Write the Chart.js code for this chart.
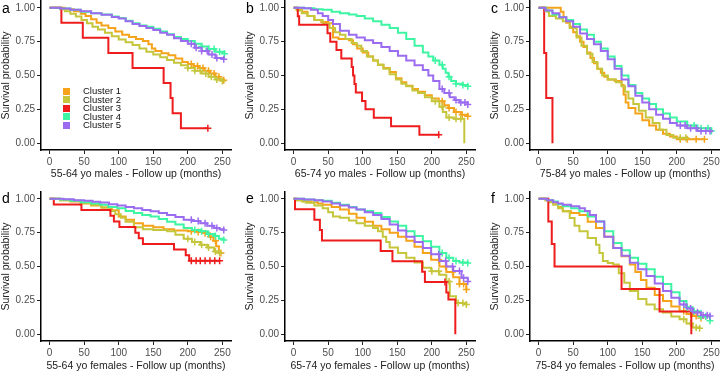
<!DOCTYPE html>
<html>
<head>
<meta charset="utf-8">
<script src="https://cdn.jsdelivr.net/npm/chart.js@4.4.1/dist/chart.umd.min.js"></script>
<style>
  html, body { margin: 0; padding: 0; width: 720px; height: 375px; overflow: hidden; background: #fff; }
  body { position: relative; font-family: "Liberation Sans", Arial, sans-serif; }
  .panel { position: absolute; }
  .tag { position: absolute; font-size: 14px; color: #000; line-height: 14px; }
  #legend { position: absolute; left: 63px; top: 87px; font-size: 9.5px; color: #111; }
  #legend div { height: 8.6px; line-height: 8.6px; white-space: nowrap; }
  #legend span { display: inline-block; width: 7px; height: 7px; margin-right: 13px; vertical-align: -0.5px; }
</style>
</head>
<body>
<script>
const clusters = ['Cluster 1', 'Cluster 2', 'Cluster 3', 'Cluster 4', 'Cluster 5'];
const colors = ['#F5A31A', '#C6C63C', '#EE1C1C', '#3DF5A2', '#9B6CF0'];
const xTicks = [0, 50, 100, 150, 200, 250];
const yTicks = [0, 0.25, 0.5, 0.75, 1];

// a: 55-64 males  [months, survival]
const a1 = [[0,1],[22,0.99],[35,0.975],[45,0.955],[52,0.94],[60,0.915],[68,0.89],[75,0.87],[85,0.85],[95,0.825],[105,0.8],[115,0.785],[125,0.77],[135,0.755],[143,0.73],[148,0.7],[153,0.68],[162,0.665],[172,0.65],[182,0.625],[192,0.6],[200,0.585],[208,0.57],[216,0.555],[224,0.535],[232,0.515],[240,0.49],[246,0.47],[252,0.465]];
const a2 = [[0,1],[15,0.99],[22,0.975],[30,0.955],[38,0.935],[46,0.91],[54,0.885],[62,0.86],[70,0.84],[80,0.815],[90,0.79],[100,0.765],[110,0.745],[120,0.725],[130,0.7],[140,0.675],[150,0.655],[160,0.635],[170,0.615],[180,0.595],[190,0.575],[200,0.555],[210,0.535],[220,0.515],[230,0.49],[240,0.47],[250,0.46]];
const a3 = [[0,1],[17,0.889],[48,0.778],[85,0.667],[120,0.556],[165,0.444],[175,0.333],[178,0.222],[190,0.111],[229,0.111]];
const a4 = [[0,1],[15,0.995],[30,0.985],[45,0.97],[60,0.96],[75,0.95],[90,0.935],[100,0.925],[110,0.905],[120,0.885],[130,0.87],[140,0.86],[150,0.845],[160,0.825],[170,0.805],[180,0.785],[190,0.77],[200,0.755],[210,0.735],[220,0.715],[230,0.695],[240,0.675],[253,0.66]];
const a5 = [[0,1],[15,0.995],[30,0.985],[45,0.975],[60,0.96],[75,0.948],[90,0.932],[100,0.92],[110,0.9],[120,0.88],[130,0.865],[140,0.85],[150,0.835],[160,0.815],[170,0.8],[180,0.775],[190,0.755],[200,0.735],[210,0.705],[220,0.68],[230,0.655],[240,0.63],[252,0.62]];
const aCens = [[205,214,222,230,238,245,252],[200,210,218,226,234,242,250],[229],[210,220,230,238,246,253],[205,212,220,228,235,242,252]];

// b: 65-74 males
const b1 = [[0,1],[4,0.985],[12,0.97],[20,0.94],[30,0.91],[40,0.895],[50,0.885],[57,0.78],[65,0.77],[80,0.76],[86,0.73],[92,0.7],[100,0.67],[108,0.64],[115,0.61],[122,0.58],[130,0.555],[139,0.525],[148,0.48],[156,0.45],[163,0.425],[172,0.4],[180,0.38],[190,0.355],[200,0.33],[210,0.31],[218,0.28],[224,0.26],[232,0.23],[242,0.21],[252,0.2]];
const b2 = [[0,1],[5,0.98],[12,0.96],[20,0.94],[30,0.91],[42,0.88],[52,0.85],[60,0.82],[67,0.8],[75,0.77],[84,0.74],[91,0.72],[98,0.68],[106,0.64],[115,0.61],[122,0.58],[130,0.55],[139,0.51],[148,0.47],[156,0.44],[163,0.42],[172,0.39],[180,0.37],[190,0.34],[200,0.31],[211,0.27],[216,0.23],[221,0.19],[232,0.18],[247,0]];
const b3 = [[0,1],[6,0.9375],[8,0.875],[49,0.8125],[53,0.75],[62,0.6875],[69,0.625],[84,0.5625],[86,0.5],[88,0.4375],[90,0.375],[99,0.3125],[104,0.25],[116,0.1875],[141,0.125],[182,0.0625],[210,0.0625]];
const b4 = [[0,1],[15,0.997],[30,0.99],[42,0.985],[55,0.97],[67,0.96],[80,0.95],[91,0.94],[103,0.92],[115,0.9],[127,0.875],[139,0.85],[151,0.815],[163,0.77],[175,0.72],[187,0.67],[195,0.64],[202,0.61],[211,0.58],[216,0.55],[220,0.52],[224,0.49],[228,0.46],[235,0.44],[245,0.43],[252,0.42]];
const b5 = [[0,1],[15,0.997],[25,0.985],[35,0.96],[42,0.94],[50,0.91],[57,0.88],[67,0.83],[80,0.8],[91,0.78],[103,0.76],[115,0.74],[127,0.71],[139,0.68],[151,0.645],[163,0.61],[175,0.575],[187,0.54],[195,0.5],[202,0.46],[211,0.4],[218,0.37],[226,0.34],[233,0.32],[240,0.3],[252,0.285]];
const bCens = [[215,225,235,244,252],[205,215,225,235,242],[210],[205,215,225,235,245,252],[215,225,235,242,248,252]];

// c: 75-84 males
const c1 = [[0,1],[29,1],[32,0.97],[36,0.93],[40,0.89],[45,0.86],[50,0.82],[55,0.79],[60,0.75],[65,0.71],[70,0.67],[75,0.63],[80,0.59],[85,0.55],[90,0.52],[95,0.49],[100,0.47],[110,0.46],[120,0.43],[123,0.36],[126,0.3],[130,0.26],[140,0.22],[150,0.17],[160,0.13],[170,0.1],[180,0.07],[190,0.05],[200,0.03],[240,0.03]];
const c2 = [[0,1],[12,0.97],[15,0.94],[25,0.92],[35,0.9],[45,0.85],[55,0.78],[62,0.72],[70,0.66],[78,0.6],[85,0.55],[92,0.5],[100,0.47],[112,0.45],[120,0.42],[125,0.38],[130,0.33],[137,0.29],[145,0.24],[155,0.19],[165,0.15],[175,0.1],[185,0.06],[195,0.04],[215,0.03]];
const c3 = [[0,1],[8,0.667],[11,0.333],[20,0]];
const c4 = [[0,1],[10,0.98],[20,0.95],[30,0.93],[40,0.91],[50,0.88],[60,0.84],[70,0.8],[80,0.75],[90,0.7],[100,0.64],[110,0.57],[120,0.5],[130,0.43],[140,0.37],[150,0.33],[160,0.29],[170,0.25],[180,0.22],[190,0.19],[200,0.16],[215,0.13],[230,0.11],[250,0.09]];
const c5 = [[0,1],[10,0.98],[20,0.96],[30,0.93],[40,0.9],[50,0.86],[60,0.81],[70,0.77],[80,0.73],[90,0.68],[100,0.62],[110,0.55],[120,0.47],[130,0.42],[140,0.35],[150,0.3],[160,0.25],[170,0.21],[180,0.18],[190,0.15],[200,0.13],[215,0.11],[230,0.09],[250,0.08]];
const cCens = [[205,215,228,240],[205,213],[],[215,225,235,245,250],[205,212,220,228,235,242,248]];

// d: 55-64 females
const d1 = [[0,1],[15,0.99],[30,0.98],[45,0.965],[60,0.95],[75,0.935],[90,0.915],[100,0.87],[110,0.845],[122,0.82],[135,0.8],[150,0.79],[165,0.775],[180,0.765],[200,0.76],[215,0.755],[225,0.745],[232,0.72],[237,0.69],[241,0.65],[245,0.6],[248,0.6]];
const d2 = [[0,1],[15,0.99],[30,0.985],[45,0.97],[60,0.955],[75,0.935],[88,0.91],[95,0.885],[103,0.86],[110,0.83],[122,0.79],[135,0.775],[150,0.77],[170,0.76],[182,0.735],[194,0.705],[206,0.68],[218,0.66],[228,0.64],[238,0.61],[246,0.6]];
const d3 = [[0,1],[6,0.958],[46,0.917],[88,0.875],[93,0.833],[101,0.792],[124,0.75],[129,0.708],[135,0.667],[180,0.625],[197,0.583],[202,0.542],[246,0.542]];
const d4 = [[0,1],[15,0.995],[30,0.985],[45,0.975],[60,0.965],[73,0.955],[85,0.94],[98,0.93],[110,0.91],[122,0.895],[134,0.88],[146,0.87],[158,0.85],[170,0.83],[182,0.81],[194,0.785],[206,0.77],[218,0.76],[228,0.74],[238,0.725],[245,0.705],[252,0.695]];
const d5 = [[0,1],[20,0.997],[35,0.99],[50,0.985],[62,0.978],[73,0.972],[86,0.96],[98,0.95],[110,0.94],[122,0.93],[134,0.918],[146,0.907],[158,0.895],[170,0.88],[182,0.865],[194,0.846],[206,0.835],[218,0.82],[228,0.8],[238,0.785],[246,0.775],[252,0.77]];
const dCens = [[205,215,225,233,240,248],[200,210,220,230,240,246],[205,212,218,225,232,239,246],[210,220,230,240,252],[205,215,225,235,242,252]];

// e: 65-74 females
const e1 = [[0,1],[5,0.99],[15,0.98],[25,0.975],[35,0.965],[42,0.956],[55,0.94],[67,0.92],[80,0.89],[91,0.86],[103,0.83],[115,0.8],[127,0.775],[139,0.75],[151,0.72],[163,0.69],[175,0.645],[187,0.6],[199,0.55],[211,0.5],[221,0.46],[231,0.42],[240,0.37],[250,0.33]];
const e2 = [[0,1],[5,0.99],[12,0.98],[18,0.97],[30,0.95],[42,0.93],[50,0.9],[57,0.87],[67,0.86],[80,0.84],[91,0.82],[103,0.8],[115,0.785],[122,0.76],[129,0.72],[134,0.68],[139,0.64],[151,0.6],[163,0.565],[175,0.53],[187,0.49],[199,0.465],[211,0.44],[221,0.39],[226,0.28],[235,0.23],[250,0.22]];
const e3 = [[0,1],[2,0.923],[30,0.846],[38,0.769],[41,0.692],[126,0.615],[143,0.538],[186,0.462],[190,0.385],[221,0.308],[224,0.256],[234,0]];
const e4 = [[0,1],[15,0.995],[30,0.99],[42,0.985],[55,0.97],[67,0.956],[80,0.94],[91,0.92],[103,0.91],[115,0.895],[127,0.865],[139,0.833],[151,0.8],[163,0.76],[175,0.725],[187,0.686],[199,0.645],[211,0.6],[221,0.565],[231,0.54],[240,0.53],[252,0.525]];
const e5 = [[0,1],[15,0.995],[30,0.99],[42,0.98],[55,0.965],[67,0.95],[80,0.935],[91,0.92],[103,0.9],[115,0.88],[127,0.85],[139,0.81],[151,0.765],[163,0.72],[175,0.68],[187,0.637],[199,0.59],[211,0.54],[221,0.5],[231,0.466],[243,0.417],[252,0.39]];
const eCens = [[210,220,230,240,246,250],[200,210,225,238,245,250],[219],[215,225,235,245,252],[210,220,230,240,246,252]];

// f: 75-84 females
const f1 = [[0,1],[10,0.99],[16,0.98],[21,0.97],[28,0.94],[35,0.907],[47,0.895],[59,0.88],[71,0.83],[83,0.784],[95,0.72],[108,0.637],[120,0.575],[132,0.515],[140,0.46],[148,0.4],[156,0.343],[168,0.29],[180,0.245],[192,0.205],[204,0.17],[214,0.15],[223,0.135],[235,0.12]];
const f2 = [[0,1],[10,0.99],[16,0.975],[21,0.956],[28,0.93],[35,0.907],[45,0.858],[52,0.8],[59,0.76],[71,0.71],[83,0.66],[88,0.6],[93,0.54],[100,0.525],[108,0.515],[116,0.45],[124,0.38],[132,0.32],[144,0.26],[156,0.22],[168,0.185],[180,0.16],[192,0.13],[204,0.11],[214,0.08],[223,0.05],[233,0.045]];
const f3 = [[0,1],[14,0.833],[19,0.667],[23,0.5],[120,0.333],[175,0.167],[221,0]];
const f4 = [[0,1],[12,0.99],[21,0.98],[28,0.96],[35,0.944],[47,0.93],[59,0.907],[71,0.87],[83,0.833],[95,0.76],[108,0.674],[120,0.62],[132,0.564],[144,0.52],[156,0.48],[168,0.425],[180,0.37],[192,0.31],[204,0.245],[214,0.2],[223,0.17],[235,0.13],[248,0.1]];
const f5 = [[0,1],[12,0.99],[21,0.975],[28,0.965],[35,0.956],[47,0.945],[59,0.93],[67,0.91],[74,0.88],[83,0.833],[95,0.72],[108,0.637],[120,0.58],[132,0.527],[144,0.48],[156,0.43],[168,0.375],[180,0.32],[192,0.27],[204,0.22],[214,0.19],[223,0.16],[235,0.14],[248,0.135]];
const fCens = [[210,220,228,235],[210,220,228,233],[],[215,225,235,242,248],[210,220,230,238,244,248]];

// canvas top/height chosen so the plot area lines up with the reference
const panels = [
  { tag: 'a', left: 0,   top: -7,  tagTop: 1,   h: 192, xh: 35, pb: 5, title: '55-64 yo males - Follow up (months)',   series: [a1, a2, a3, a4, a5], cens: aCens },
  { tag: 'b', left: 244, top: -7,  tagTop: 1,   h: 192, xh: 35, pb: 5, title: '65-74 yo males - Follow up (months)',   series: [b1, b2, b3, b4, b5], cens: bCens },
  { tag: 'c', left: 489, top: -7,  tagTop: 1,   h: 192, xh: 35, pb: 5, title: '75-84 yo males - Follow up (months)',   series: [c1, c2, c3, c4, c5], cens: cCens },
  { tag: 'd', left: 0,   top: 184, tagTop: 191, h: 191, xh: 34, pb: 3, title: '55-64 yo females - Follow up (months)', series: [d1, d2, d3, d4, d5], cens: dCens },
  { tag: 'e', left: 244, top: 184, tagTop: 191, h: 191, xh: 34, pb: 3, title: '65-74 yo females - Follow up (months)', series: [e1, e2, e3, e4, e5], cens: eCens },
  { tag: 'f', left: 489, top: 184, tagTop: 191, h: 191, xh: 34, pb: 3, title: '75-84 yo females - Follow up (months)', series: [f1, f2, f3, f4, f5], cens: fCens },
];

const family = '"Liberation Sans", Arial, sans-serif';

function survAt(steps, t) {
  let s = 1;
  for (const [tt, v] of steps) { if (tt <= t) s = v; }
  return s;
}

panels.forEach(p => {
  const canvas = document.createElement('canvas');
  canvas.className = 'panel';
  canvas.width = 240;
  canvas.height = p.h;
  canvas.style.left = p.left + 'px';
  canvas.style.top = p.top + 'px';
  document.body.appendChild(canvas);

  const tag = document.createElement('div');
  tag.className = 'tag';
  tag.textContent = p.tag;
  tag.style.left = (p.left + 2) + 'px';
  tag.style.top = p.tagTop + 'px';
  document.body.appendChild(tag);

  const datasets = [];
  p.series.forEach((steps, k) => {
    datasets.push({
      type: 'line',
      label: clusters[k],
      data: steps.map(([t, s]) => ({ x: t, y: s })),
      stepped: 'before',
      borderColor: colors[k],
      borderWidth: 2,
      pointRadius: 0,
      fill: false,
      order: 10 - 2 * k,
    });
    datasets.push({
      type: 'scatter',
      label: clusters[k] + ' censored',
      data: p.cens[k].map(t => ({ x: t, y: survAt(steps, t) })),
      pointStyle: 'cross',
      pointRadius: 3.5,
      borderColor: colors[k],
      borderWidth: 1.5,
      order: 9 - 2 * k,
    });
  });

  new Chart(canvas, {
    data: { datasets },
    options: {
      responsive: false,
      animation: false,
      events: [],
      layout: { padding: { top: 0, right: 9, left: 0, bottom: 0 } },
      plugins: { legend: { display: false }, tooltip: { enabled: false } },
      scales: {
        x: {
          type: 'linear', min: -12.5, max: 262.5,
          afterBuildTicks: s => { s.ticks = xTicks.map(v => ({ value: v })); },
          afterFit: s => { s.height = p.xh; },
          grid: { drawOnChartArea: false, tickLength: 4, color: '#222', lineWidth: 1 },
          border: { color: '#000', width: 1.5 },
          ticks: { color: '#4d4d4d', font: { size: 10, family }, padding: 2, maxRotation: 0, autoSkip: false, callback: v => v },
          title: { display: true, text: p.title, color: '#222', font: { size: 10.5, family }, padding: { top: 0, bottom: p.pb } },
        },
        y: {
          type: 'linear', min: -0.05, max: 1.05,
          afterBuildTicks: s => { s.ticks = yTicks.map(v => ({ value: v })); },
          afterFit: s => { s.width = 41; },
          grid: { drawOnChartArea: false, tickLength: 4, color: '#222', lineWidth: 1 },
          border: { color: '#000', width: 1.5 },
          ticks: { color: '#4d4d4d', font: { size: 10, family }, padding: 2, callback: v => Number(v).toFixed(2) },
          title: { display: true, text: 'Survival probability', color: '#222', font: { size: 10.5, family }, padding: { top: 0, bottom: 0 } },
        },
      },
    },
  });
});

// legend inside panel a
const legend = document.createElement('div');
legend.id = 'legend';
clusters.forEach((name, k) => {
  const row = document.createElement('div');
  const sw = document.createElement('span');
  sw.style.background = colors[k];
  row.appendChild(sw);
  row.appendChild(document.createTextNode(name));
  legend.appendChild(row);
});
document.body.appendChild(legend);
</script>
</body>
</html>
